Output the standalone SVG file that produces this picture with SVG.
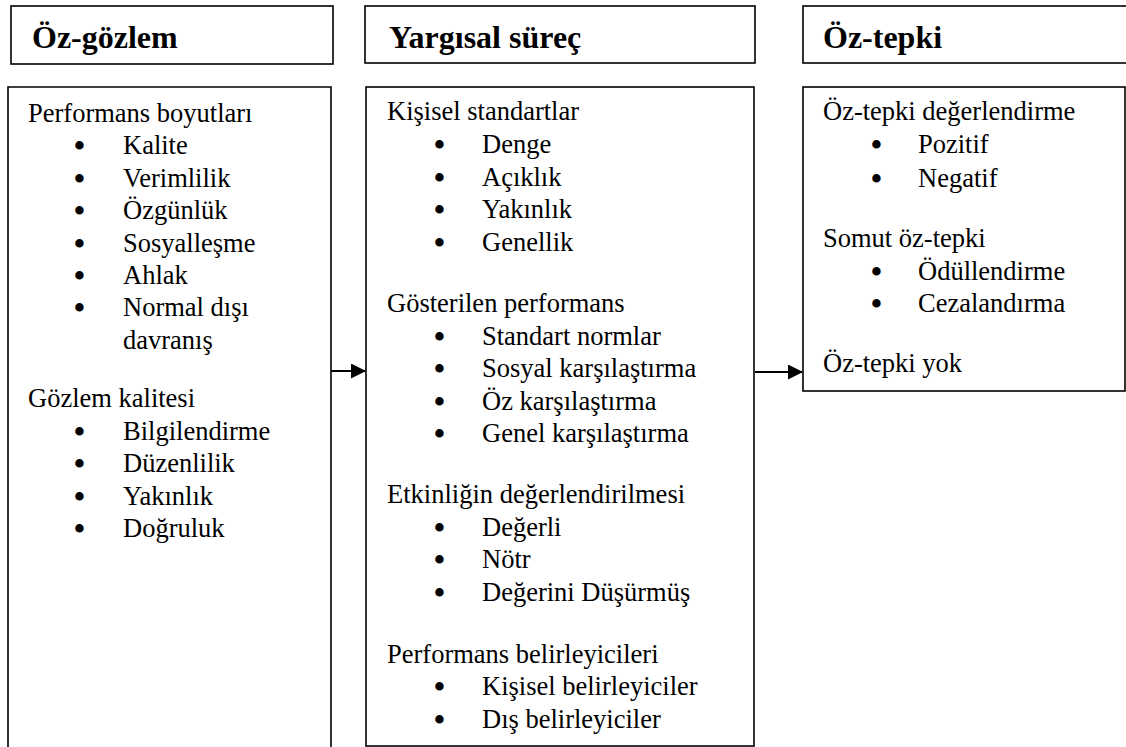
<svg xmlns="http://www.w3.org/2000/svg" width="1126" height="747" viewBox="0 0 1126 747">
<style>
.box{fill:#fff;stroke:#000;stroke-width:1.6}
.hd{font-family:'Liberation Serif','Times New Roman',serif;font-weight:bold;font-size:32px;fill:#000}
.t{font-family:'Liberation Serif','Times New Roman',serif;font-size:26.5px;fill:#000}
.b{font-family:'Liberation Serif','Times New Roman',serif;font-size:31px;font-weight:bold;fill:#000}
.con{stroke:#000;stroke-width:2;fill:none}
</style>
<defs>
<marker id="ah" markerWidth="15" markerHeight="15" refX="14" refY="7.5" orient="auto" markerUnits="userSpaceOnUse" viewBox="0 0 15 15">
<path d="M0,0 L15,7.5 L0,15 Z" fill="#000"/>
</marker>
</defs>
<rect width="1126" height="747" fill="#fff"/>
<g id="head-ozgozlem"><rect class="box" x="11" y="6" width="322" height="58"/><text class="hd" x="32" y="48">Öz-gözlem</text></g>
<g id="head-yargisal"><rect class="box" x="365" y="6" width="390" height="57"/><text class="hd" x="389" y="48">Yargısal süreç</text></g>
<g id="head-oztepki"><rect class="box" x="803" y="6" width="330" height="57"/><text class="hd" x="823" y="48">Öz-tepki</text></g>
<g id="box-ozgozlem">
<path class="box" d="M8,760 V87 H331 V760"/>
<g class="t">
<text x="28" y="122">Performans boyutları</text>
<text x="123" y="154">Kalite</text>
<text x="123" y="187">Verimlilik</text>
<text x="123" y="219">Özgünlük</text>
<text x="123" y="252">Sosyalleşme</text>
<text x="123" y="284">Ahlak</text>
<text x="123" y="316">Normal dışı</text>
<text x="123" y="349">davranış</text>
<text x="28" y="407">Gözlem kalitesi</text>
<text x="123" y="440">Bilgilendirme</text>
<text x="123" y="472">Düzenlilik</text>
<text x="123" y="505">Yakınlık</text>
<text x="123" y="537">Doğruluk</text>
</g>
<g class="b">
<text x="74" y="156">•</text><text x="74" y="189">•</text><text x="74" y="221">•</text><text x="74" y="254">•</text><text x="74" y="286">•</text><text x="74" y="318">•</text>
<text x="74" y="442">•</text><text x="74" y="474">•</text><text x="74" y="507">•</text><text x="74" y="539">•</text>
</g>
</g>
<g id="box-yargisal">
<rect class="box" x="366" y="87" width="388" height="659"/>
<g class="t">
<text x="387" y="120">Kişisel standartlar</text>
<text x="482" y="153">Denge</text>
<text x="482" y="186">Açıklık</text>
<text x="482" y="218">Yakınlık</text>
<text x="482" y="251">Genellik</text>
<text x="387" y="312">Gösterilen performans</text>
<text x="482" y="345">Standart normlar</text>
<text x="482" y="377">Sosyal karşılaştırma</text>
<text x="482" y="410">Öz karşılaştırma</text>
<text x="482" y="442">Genel karşılaştırma</text>
<text x="387" y="503">Etkinliğin değerlendirilmesi</text>
<text x="482" y="536">Değerli</text>
<text x="482" y="568">Nötr</text>
<text x="482" y="601">Değerini Düşürmüş</text>
<text x="387" y="663">Performans belirleyicileri</text>
<text x="482" y="695">Kişisel belirleyiciler</text>
<text x="482" y="728">Dış belirleyiciler</text>
</g>
<g class="b">
<text x="434" y="155">•</text><text x="434" y="188">•</text><text x="434" y="220">•</text><text x="434" y="253">•</text>
<text x="434" y="347">•</text><text x="434" y="379">•</text><text x="434" y="412">•</text><text x="434" y="444">•</text>
<text x="434" y="538">•</text><text x="434" y="570">•</text><text x="434" y="603">•</text>
<text x="434" y="697">•</text><text x="434" y="730">•</text>
</g>
</g>
<g id="box-oztepki">
<rect class="box" x="803" y="87" width="322" height="304"/>
<g class="t">
<text x="823" y="120">Öz-tepki değerlendirme</text>
<text x="918" y="153">Pozitif</text>
<text x="918" y="187">Negatif</text>
<text x="823" y="247">Somut öz-tepki</text>
<text x="918" y="280">Ödüllendirme</text>
<text x="918" y="312">Cezalandırma</text>
<text x="823" y="372">Öz-tepki yok</text>
</g>
<g class="b">
<text x="871" y="155">•</text><text x="871" y="189">•</text><text x="871" y="282">•</text><text x="871" y="314">•</text>
</g>
</g>
<g id="connectors">
<line class="con" x1="331" y1="371" x2="365" y2="371" marker-end="url(#ah)"/>
<line class="con" x1="755" y1="372" x2="802" y2="372" marker-end="url(#ah)"/>
</g>
</svg>
